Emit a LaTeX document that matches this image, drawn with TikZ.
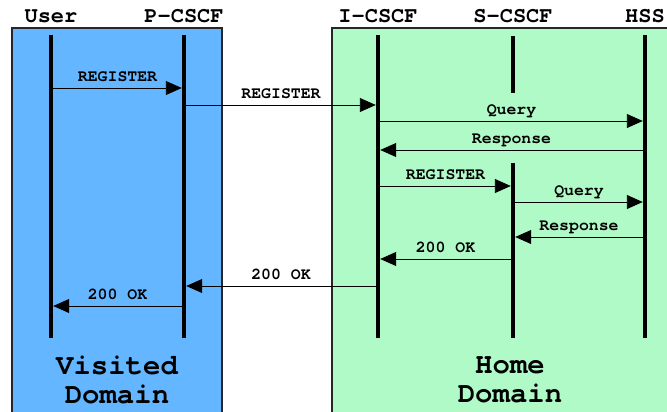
\documentclass[tikz,border=0pt]{standalone}
\usepackage{fontspec}
\setmonofont{texgyrecursor}[Extension=.otf,UprightFont=*-regular,BoldFont=*-bold]
\usetikzlibrary{arrows.meta}
\definecolor{visitedblue}{RGB}{99,182,255}
\definecolor{homegreen}{RGB}{176,250,200}
\tikzset{
  head/.style={anchor=base,font=\ttfamily\bfseries\fontsize{22}{24}\selectfont},
  life/.style={line width=4.5pt},
  msg/.style={line width=0.9pt,-{Triangle[length=16pt,width=14pt]},shorten >=2.2pt},
  lbl/.style={midway,anchor=base,yshift=6.5pt,font=\ttfamily\bfseries\fontsize{16.5}{18}\selectfont},
  domname/.style={align=center,font=\ttfamily\bfseries\fontsize{29}{29}\selectfont}
}
\begin{document}
\begin{tikzpicture}[x=1pt,y=-1pt]
  \useasboundingbox (0,0) rectangle (667,412);
  % domains
  \fill[visitedblue] (12,28) rectangle (222,420);
  \fill[homegreen] (332,28) rectangle (680,420);
  \draw[line width=2pt,black!85] (12,420)--(12,28)--(222,28)--(222,420);
  \draw[line width=2pt,black!85] (332,420)--(332,28)--(680,28);
  % entities
  \node[head] (user) at (51,23) {User};
  \node[head] (pcscf) at (184,23) {P-CSCF};
  \node[head] (icscf) at (378,23) {I-CSCF};
  \node[head] (scscf) at (513,23) {S-CSCF};
  \node[head] (hss) at (645,23) {HSS};
  % lifelines
  \draw[life] (user |- 0,35) -- (user |- 0,338);
  \draw[life] (pcscf |- 0,35) -- (pcscf |- 0,338);
  \draw[life] (icscf |- 0,35) -- (icscf |- 0,338);
  \draw[life] (scscf |- 0,36) -- (scscf |- 0,93);
  \draw[life] (scscf |- 0,163) -- (scscf |- 0,338);
  \draw[life] (hss |- 0,35) -- (hss |- 0,338);
  % messages
  \draw[msg] (user |- 0,88) -- (pcscf |- 0,88) node[lbl]{REGISTER};
  \draw[msg] (pcscf |- 0,105) -- (icscf |- 0,105) node[lbl]{REGISTER};
  \draw[msg] (icscf |- 0,121) -- (hss |- 0,121) node[lbl]{Query};
  \draw[msg] (hss |- 0,150) -- (icscf |- 0,150) node[lbl]{Response};
  \draw[msg] (icscf |- 0,186) -- (scscf |- 0,186) node[lbl]{REGISTER};
  \draw[msg] (scscf |- 0,202) -- (hss |- 0,202) node[lbl]{Query};
  \draw[msg] (hss |- 0,237) -- (scscf |- 0,237) node[lbl]{Response};
  \draw[msg] (scscf |- 0,259) -- (icscf |- 0,259) node[lbl]{200 OK};
  \draw[msg] (icscf |- 0,286) -- (pcscf |- 0,286) node[lbl]{200 OK};
  \draw[msg] (pcscf |- 0,306) -- (user |- 0,306) node[lbl]{200 OK};
  % domain names
  \node[domname] (visited) at (117,380) {Visited\\Domain};
  \node[domname] (home) at (510,380) {Home\\Domain};
\end{tikzpicture}
\end{document}
